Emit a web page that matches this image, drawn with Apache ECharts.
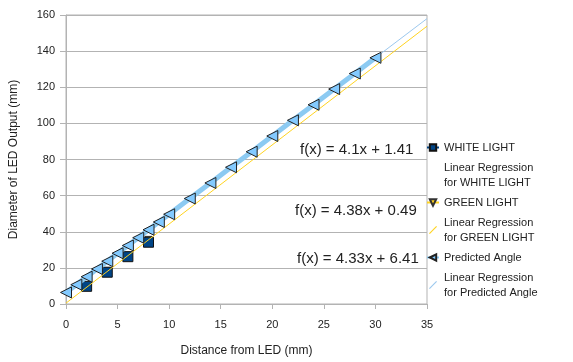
<!DOCTYPE html>
<html>
<head>
<meta charset="utf-8">
<script src="https://cdn.jsdelivr.net/npm/echarts@6/dist/echarts.min.js"></script>
<style>
  html, body { margin: 0; padding: 0; background: #fff; }
  #main { width: 573px; height: 362px; }
</style>
</head>
<body>
<div id="main"></div>
<script>
// measured points
var whiteLight = [[2, 9.8], [4, 17.6], [6, 26.2], [8, 34.2]];
var greenLight = [[2, 9.3], [4, 18.0], [6, 26.7], [8, 35.5]];
var predicted = [
  [0, 6.4], [1, 10.7], [2, 15.1], [3, 19.4], [4, 23.7], [5, 28.1],
  [6, 32.4], [7, 36.7], [8, 41.1], [9, 45.4], [10, 49.7], [12, 58.4],
  [14, 67.0], [16, 75.7], [18, 84.3], [20, 93.0], [22, 101.7], [24, 110.3],
  [26, 119.0], [28, 127.6], [30, 136.3]
];
// trend line end points (from the equations on the chart)
var whiteFit = [[0, 1.41], [35, 144.9]];
var greenFit = [[0, 0.49], [35, 153.8]];
var predictedFit = [[0, 6.41], [35, 158.0]];
var equations = ['f(x) = 4.1x + 1.41', 'f(x) = 4.38x + 0.49', 'f(x) = 4.33x + 6.41'];

var font = 'Liberation Sans, Arial, sans-serif';
var gridCol = '#b3b3b3';
var regIcon = 'path://M0,9 L1,10 L10,1 L9,0 Z';

var chart = echarts.init(document.getElementById('main'));

chart.setOption({
  animation: false,
  textStyle: { fontFamily: font },
  grid: {
    left: 66, right: 146, top: 15, bottom: 57,
    show: true, borderColor: gridCol, borderWidth: 1, backgroundColor: '#fff'
  },
  legend: {
    orient: 'vertical',
    left: 421, top: 135,
    itemWidth: 12, itemHeight: 8, itemGap: 5,
    textStyle: { fontFamily: font, fontSize: 11, color: '#222', lineHeight: 15 },
    data: [
      { name: 'WHITE LIGHT', lineStyle: { opacity: 1, width: 2 } },
      { name: 'Linear Regression\nfor WHITE LIGHT', icon: 'none' },
      { name: 'GREEN LIGHT', lineStyle: { opacity: 1, width: 2 } },
      { name: 'Linear Regression\nfor GREEN LIGHT', icon: regIcon },
      { name: 'Predicted Angle' },
      { name: 'Linear Regression\nfor Predicted Angle', icon: regIcon }
    ]
  },
  xAxis: {
    type: 'value', min: 0, max: 35, interval: 5,
    name: 'Distance from LED (mm)', nameLocation: 'middle', nameGap: 41,
    nameTextStyle: { fontSize: 12, color: '#222' },
    axisLine: { lineStyle: { color: gridCol } },
    axisTick: { show: true, length: 5, lineStyle: { color: gridCol } },
    axisLabel: { fontSize: 11, color: '#222', margin: 15 },
    splitLine: { show: false }
  },
  yAxis: {
    type: 'value', min: 0, max: 160, interval: 20,
    name: 'Diameter of LED Output (mm)', nameLocation: 'middle', nameGap: 46,
    nameTextStyle: { fontSize: 12, color: '#222' },
    axisLine: { show: true, lineStyle: { color: gridCol } },
    axisTick: { show: true, length: 6, lineStyle: { color: gridCol } },
    axisLabel: { fontSize: 11, color: '#222', margin: 11 },
    splitLine: { lineStyle: { color: gridCol } }
  },
  series: [
    {
      name: 'WHITE LIGHT', type: 'line', data: whiteLight, z: 3,
      symbol: 'rect', symbolSize: 10,
      lineStyle: { opacity: 0 },
      itemStyle: { color: '#004586', borderColor: '#111', borderWidth: 1 }
    },
    {
      name: 'Linear Regression\nfor WHITE LIGHT', type: 'line', data: whiteFit,
      symbol: 'none', lineStyle: { opacity: 0 }, itemStyle: { color: '#004586' }
    },
    {
      name: 'GREEN LIGHT', type: 'line', data: greenLight, z: 2,
      symbol: 'triangle', symbolRotate: 180, symbolSize: 7,
      lineStyle: { opacity: 0 },
      itemStyle: { color: '#ffd320', borderColor: '#333', borderWidth: 1 }
    },
    {
      name: 'Linear Regression\nfor GREEN LIGHT', type: 'line', data: greenFit, z: 4,
      symbol: 'none', lineStyle: { color: '#ffd320', width: 1 },
      itemStyle: { color: '#ffd320' }
    },
    {
      name: 'Predicted Angle', type: 'line', data: predicted, z: 5,
      symbol: 'triangle', symbolRotate: 90, symbolSize: 11,
      lineStyle: { color: '#8ccaf2', width: 5 },
      itemStyle: { color: '#83caff', borderColor: '#222', borderWidth: 1 }
    },
    {
      name: 'Linear Regression\nfor Predicted Angle', type: 'line', data: predictedFit, z: 4,
      symbol: 'none', lineStyle: { color: '#9cc8ee', width: 1 },
      itemStyle: { color: '#9cc8ee' }
    }
  ],
  graphic: [
    { type: 'text', left: 300, top: 142, style: { text: equations[0], font: '15px ' + font, fill: '#222' } },
    { type: 'text', left: 295, top: 203, style: { text: equations[1], font: '15px ' + font, fill: '#222' } },
    { type: 'text', left: 297, top: 251, style: { text: equations[2], font: '15px ' + font, fill: '#222' } }
  ]
});
</script>
</body>
</html>
